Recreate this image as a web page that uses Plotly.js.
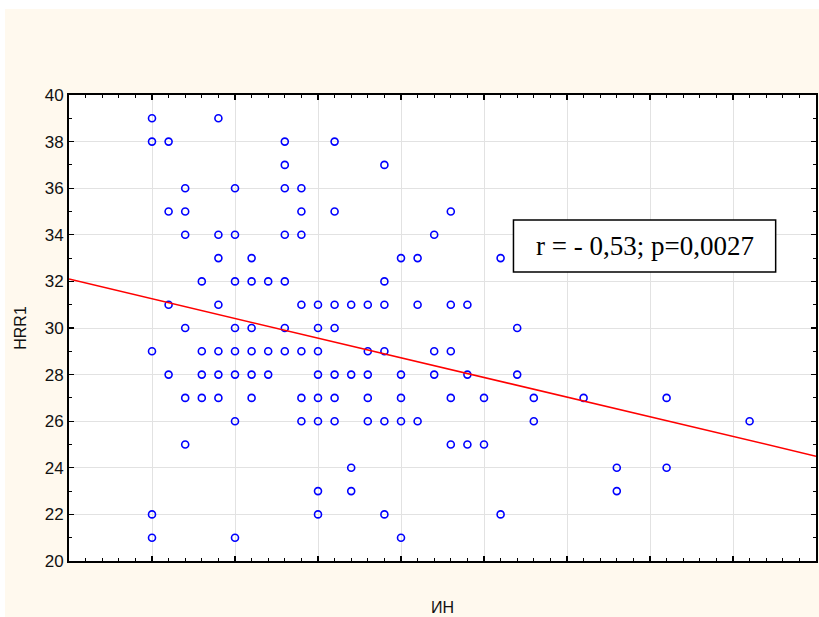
<!DOCTYPE html>
<html>
<head>
<meta charset="utf-8">
<script src="https://cdn.plot.ly/plotly-3.0.1.min.js"></script>
<style>
html,body{margin:0;padding:0;background:#ffffff;width:819px;height:617px;overflow:hidden;}
#chart{position:absolute;left:5px;top:9px;width:814px;height:608px;}
</style>
</head>
<body>
<div id="chart"></div>
<script>
// ИН values (x) and HRR1 values (y)
const inValues = [
  50,50,50,50,50,
  60,60,60,60,
  70,70,70,70,70,70,
  80,80,80,80,
  90,90,90,90,90,90,90,
  100,100,100,100,100,100,100,100,
  110,110,110,110,110,110,
  120,120,120,
  130,130,130,130,130,130,130,
  140,140,140,140,140,140,140,
  150,150,150,150,150,150,150,150,
  160,160,160,160,160,160,160,
  170,170,170,170,
  180,180,180,180,180,
  190,190,190,190,190,190,
  200,200,200,200,200,
  210,210,210,
  220,220,220,
  230,230,230,230,230,
  240,240,240,
  250,250,
  260,260,
  270,270,
  280,280,
  310,
  330,330,
  360,360,
  410
];
const hrr1Values = [
  39,38,29,22,21,
  38,35,31,28,
  36,35,34,30,27,25,
  32,29,28,27,
  39,34,33,31,29,28,27,
  36,34,32,30,29,28,26,21,
  33,32,30,29,28,27,
  32,29,28,
  38,37,36,34,32,30,29,
  36,35,34,31,29,27,26,
  31,30,29,28,27,26,23,22,
  38,35,31,30,28,27,26,
  31,28,24,23,
  31,29,28,27,26,
  37,32,31,29,26,22,
  33,28,27,26,21,
  33,31,26,
  34,29,28,
  35,31,29,27,25,
  31,28,25,
  27,25,
  33,22,
  30,28,
  27,26,
  27,
  24,23,
  27,24,
  26
];
// regression line end values
const fitX = [0, 450];
const fitY = [32.1, 24.5];
const xRange = [0, 450];
const yRange = [20, 40];
const statText = "r = - 0,53; p=0,0027";
const xTitle = "ИН";
const yTitle = "HRR1";

const traces = [
  {
    x: inValues, y: hrr1Values, type: 'scatter', mode: 'markers',
    marker: {symbol: 'circle-open', size: 7, color: '#0000ff', line: {width: 1.6, color: '#0000ff'}},
    hoverinfo: 'x+y', showlegend: false
  },
  {
    x: fitX, y: fitY, type: 'scatter', mode: 'lines',
    line: {color: '#ff0000', width: 1.5}, showlegend: false
  }
];

const axisCommon = {
  showline: true, linecolor: '#000000', linewidth: 2, mirror: 'ticks',
  ticks: 'inside', ticklen: 5, tickwidth: 1.2, tickcolor: '#000000',
  showgrid: true, gridcolor: '#e2e2e2', gridwidth: 1, zeroline: false
};

const layout = {
  width: 814, height: 608,
  paper_bgcolor: '#fff9ee', plot_bgcolor: '#ffffff',
  margin: {l: 64, r: 3, t: 86, b: 56},
  font: {family: '"Liberation Sans", Arial, sans-serif', color: '#111111'},
  xaxis: Object.assign({}, axisCommon, {
    range: xRange, dtick: 50, tick0: 0, showticklabels: false, autorange: false,
    minor: {ticks: 'inside', ticklen: 3, dtick: 10, tickcolor: '#000000', tickwidth: 1, showgrid: false},
    title: {text: xTitle, font: {size: 16, color: '#111111'}, standoff: 40}
  }),
  yaxis: Object.assign({}, axisCommon, {
    range: yRange, dtick: 2, tick0: 20, autorange: false,
    tickfont: {size: 17, color: '#111111'},
    minor: {ticks: 'inside', ticklen: 3, dtick: 1, tickcolor: '#000000', tickwidth: 1, showgrid: false},
    title: {text: yTitle, font: {size: 16, color: '#111111'}, standoff: 14}
  }),
  shapes: [{
    type: 'rect', xref: 'paper', yref: 'paper',
    x0: 0.595, x1: 0.946, y0: 0.620, y1: 0.732,
    line: {color: '#000000', width: 1.5}, fillcolor: '#ffffff', layer: 'above'
  }],
  annotations: [{
    xref: 'paper', yref: 'paper', x: 0.771, y: 0.676,
    xanchor: 'center', yanchor: 'middle', showarrow: false,
    text: statText,
    font: {family: '"Liberation Serif", "Times New Roman", serif', size: 27, color: '#000000'}
  }]
};

Plotly.newPlot('chart', traces, layout, {displayModeBar: false, staticPlot: true});
</script>
</body>
</html>
